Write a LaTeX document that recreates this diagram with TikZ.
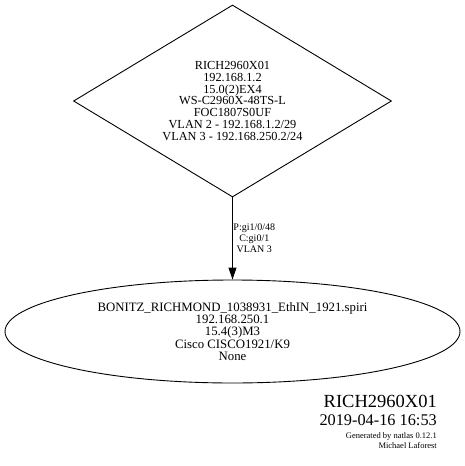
\documentclass[tikz,border=0pt]{standalone}
\usepackage{fontspec}
\setmainfont{Liberation Serif}
\usetikzlibrary{shapes.geometric,arrows.meta}
\tikzset{
  switchnode/.style={draw, shape=diamond, aspect=1.656, inner sep=0pt,
    minimum width=318pt, minimum height=192pt, line width=0.9pt,
    align=center, font=\fontsize{12.3}{11.8}\selectfont},
  hostnode/.style={draw, shape=ellipse, inner sep=0pt,
    minimum width=455pt, minimum height=103pt, line width=0.9pt,
    align=center, font=\fontsize{12.8}{12.3}\selectfont},
  linkedge/.style={line width=0.9pt, -{Triangle[length=12pt,width=8pt]}},
  edgelabel/.style={align=center, inner sep=0.5pt, font=\fontsize{10}{11.2}\selectfont},
  foot/.style={anchor=base east, inner sep=0pt}
}
\begin{document}
\begin{tikzpicture}[x=1pt,y=-1pt]
\useasboundingbox (0,0) rectangle (465,466);
\node[switchnode] (sw) at (232.5,101) {RICH2960X01\\192.168.1.2\\15.0(2)EX4\\WS-C2960X-48TS-L\\FOC1807S0UF\\VLAN 2 - 192.168.1.2/29\\VLAN 3 - 192.168.250.2/24};
\node[hostnode] (rt) at (232.5,331.5) {BONITZ\_RICHMOND\_1038931\_EthIN\_1921.spiri\\192.168.250.1\\15.4(3)M3\\Cisco CISCO1921/K9\\None};
\draw[linkedge] (sw.south) -- node[right, edgelabel] (lbl) {P:gi1/0/48\\C:gi0/1\\VLAN 3} (rt.north);
\node[foot, font=\fontsize{18.5}{20}\selectfont] (t1) at (437,407) {RICH2960X01};
\node[foot, font=\fontsize{16.3}{18}\selectfont] (t2) at (437,425.5) {2019-04-16 16:53};
\node[foot, font=\fontsize{8.5}{9}\selectfont] (t3) at (437,438.5) {Generated by natlas 0.12.1};
\node[foot, font=\fontsize{8.5}{9}\selectfont] (t4) at (437,448) {Michael Laforest};
\end{tikzpicture}
\end{document}
